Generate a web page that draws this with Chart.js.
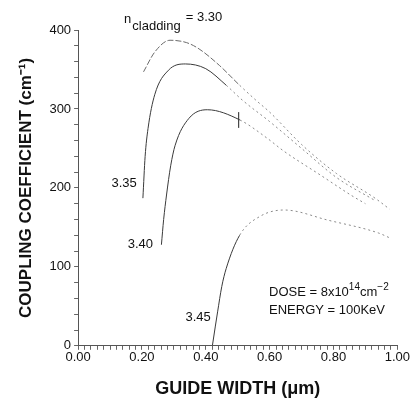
<!DOCTYPE html>
<html>
<head>
<meta charset="utf-8">
<script src="https://cdn.jsdelivr.net/npm/chart.js@4"></script>
<style>
  html, body { margin: 0; padding: 0; background: #fff; }
  #wrap { width: 410px; height: 405px; }
</style>
</head>
<body>
<div id="wrap"><canvas id="chart"></canvas></div>
<script>
// values: guide width (um) vs coupling coefficient (cm-1)
const width330 = [0.205, 0.24, 0.288, 0.34, 0.379, 0.443, 0.506, 0.56, 0.60, 0.70, 0.81, 0.93, 0.976];
const coef330 = [347, 372, 387, 384, 376, 355, 330, 310, 296, 255, 218, 187, 173];

const width335 = [0.203, 0.21, 0.219, 0.24, 0.283, 0.336, 0.40, 0.464, 0.515, 0.60, 0.70, 0.81, 0.93];
const coef335 = [187, 240, 275, 318, 349, 357, 351, 330, 311, 284, 250, 213, 184];

const width340 = [0.261, 0.268, 0.277, 0.29, 0.304, 0.347, 0.405, 0.507, 0.592, 0.643, 0.76, 0.858, 0.90];
const coef340 = [128, 160, 191, 228, 254, 288, 299, 286, 263, 247, 216, 190, 180];

const width345 = [0.421, 0.43, 0.437, 0.45, 0.464, 0.506, 0.57, 0.645, 0.784, 0.94, 0.98];
const coef345 = [1, 25, 43, 75, 98, 140, 164, 172, 159, 143, 136];

// error mark on the 3.40 curve
const errWidth = [0.503, 0.503];
const errCoef = [276, 296];

const xTicks = [0, 0.2, 0.4, 0.6, 0.8, 1.0];
const yTicks = [0, 100, 200, 300, 400];

const toPoints = (xs, ys) => xs.map((x, i) => ({ x: x, y: ys[i] }));

const FONT = '"Liberation Sans", Arial, sans-serif';

function curve(label, xs, ys, solidUntil, leftDash) {
  return {
    label: label,
    data: toPoints(xs, ys),
    borderColor: "#3a3a3a",
    borderWidth: 1,
    pointRadius: 0,
    fill: false,
    cubicInterpolationMode: "monotone",
    segment: {
      borderDash: ctx => ctx.p0.parsed.x >= solidUntil ? [2, 3] : leftDash,
      borderColor: ctx => ctx.p0.parsed.x >= solidUntil ? "#8a8a8a" : (leftDash ? "#6a6a6a" : "#3a3a3a")
    }
  };
}

const notes = {
  id: "notes",
  afterDraw(chart) {
    const { ctx, scales: { x, y } } = chart;
    const big = "13px " + FONT, small = "10px " + FONT;
    ctx.save();
    ctx.fillStyle = "#111";
    ctx.textBaseline = "middle";
    ctx.font = big;
    ctx.textAlign = "center";
    ctx.fillText("3.35", x.getPixelForValue(0.144), y.getPixelForValue(206));
    ctx.fillText("3.40", x.getPixelForValue(0.195), y.getPixelForValue(129));
    ctx.fillText("3.45", x.getPixelForValue(0.376), y.getPixelForValue(36));

    // n_cladding = 3.30
    ctx.textAlign = "left";
    let px = x.getPixelForValue(0.144);
    let py = y.getPixelForValue(414);
    ctx.fillText("n", px, py);
    let wn = ctx.measureText("n").width;
    ctx.fillText("cladding", px + wn + 1, py + 7);
    let wc = ctx.measureText("cladding").width;
    ctx.fillText("= 3.30", px + wn + wc + 6, py - 2);

    // dose / energy
    px = x.getPixelForValue(0.598);
    py = y.getPixelForValue(67);
    let s = "DOSE = 8x10";
    ctx.fillText(s, px, py);
    px += ctx.measureText(s).width;
    ctx.font = small;
    ctx.fillText("14", px, py - 6);
    px += ctx.measureText("14").width;
    ctx.font = big;
    ctx.fillText("cm", px, py);
    px += ctx.measureText("cm").width;
    ctx.font = small;
    ctx.fillText("\u22122", px, py - 6);
    ctx.font = big;
    ctx.fillText("ENERGY = 100KeV", x.getPixelForValue(0.598), y.getPixelForValue(45));
    ctx.restore();
  }
};

new Chart(document.getElementById("chart"), {
  type: "line",
  data: {
    datasets: [
      curve("3.30", width330, coef330, 0.5, [6, 2]),
      curve("3.35", width335, coef335, 0.45),
      curve("3.40", width340, coef340, 0.45),
      curve("3.45", width345, coef345, 0.5),
      {
        label: "error",
        data: toPoints(errWidth, errCoef),
        borderColor: "#222",
        borderWidth: 1,
        pointRadius: 0,
        fill: false
      }
    ]
  },
  options: {
    responsive: true,
    maintainAspectRatio: false,
    animation: false,
    layout: { padding: { top: 30, right: 4, left: 12, bottom: 1 } },
    plugins: { legend: { display: false }, tooltip: { enabled: false } },
    scales: {
      x: {
        type: "linear",
        min: 0,
        max: 1,
        ticks: {
          stepSize: 0.02,
          autoSkip: false,
          maxTicksLimit: 100,
          maxRotation: 0,
          color: "#111",
          font: { size: 13, family: FONT },
          padding: 0,
          callback: v => xTicks.some(t => Math.abs(t - v) < 1e-6) ? v.toFixed(2) : ""
        },
        grid: { drawOnChartArea: false, tickLength: 4, color: "#666" },
        border: { color: "#555" },
        title: {
          display: true,
          text: "GUIDE WIDTH (\u03bcm)",
          color: "#111",
          font: { size: 18, weight: "bold", family: FONT },
          padding: { top: 13 }
        }
      },
      y: {
        min: 0,
        max: 400,
        ticks: {
          stepSize: 20,
          autoSkip: false,
          maxTicksLimit: 100,
          color: "#111",
          font: { size: 13, family: FONT },
          padding: 3,
          callback: v => yTicks.includes(v) ? String(v) : ""
        },
        grid: { drawOnChartArea: false, tickLength: 4, color: "#666" },
        border: { color: "#555" },
        title: {
          display: true,
          text: "COUPLING COEFFICIENT (cm\u207b\u00b9)",
          color: "#111",
          font: { size: 17, weight: "bold", family: FONT },
          padding: { bottom: 10 }
        }
      }
    }
  },
  plugins: [notes]
});
</script>
</body>
</html>
